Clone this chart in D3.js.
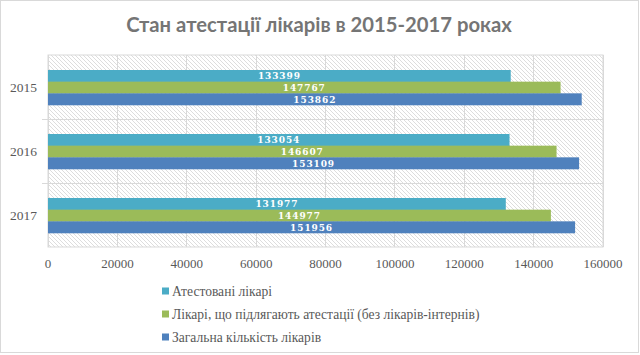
<!DOCTYPE html>
<html><head><meta charset="utf-8">
<script src="https://cdn.jsdelivr.net/npm/d3@7"></script>
<style>body{margin:0;background:#fff}svg{display:block}</style>
</head><body><svg id="c" width="640" height="355"></svg>
<script>
const title = "Стан атестації лікарів в 2015-2017 роках";
const years = ["2015", "2016", "2017"];
const seriesNames = ["Атестовані лікарі", "Лікарі, що підлягають атестації (без лікарів-інтернів)", "Загальна кількість лікарів"];
const certified = [133399, 133054, 131977];
const subject = [147767, 146607, 144977];
const total = [153862, 153109, 151956];
const xTicks = [0, 20000, 40000, 60000, 80000, 100000, 120000, 140000, 160000];
const colors = ["#4BACC6", "#9BBB59", "#4F81BD"];

const svg = d3.select("#c");
const serif = "'Liberation Serif', 'DejaVu Serif', serif";
svg.append("rect").attr("x",0.5).attr("y",0.5).attr("width",638).attr("height",352)
  .attr("fill","#fff").attr("stroke","#d9d9d9");

const defs = svg.append("defs");
const pat = defs.append("pattern").attr("id","hatch").attr("patternUnits","userSpaceOnUse")
  .attr("width",4).attr("height",4);
pat.append("rect").attr("width",4).attr("height",4).attr("fill","#fff");
pat.append("path").attr("d","M-1,-1 L5,5 M-1,3 L1,5 M3,-1 L5,1").attr("stroke","#d4d4d4").attr("stroke-width",0.8);

const m = {l:48, r:603, t:55, b:247};
const x = d3.scaleLinear().domain([0,160000]).range([m.l, m.r]);
const y = d3.scaleBand().domain(years).range([m.t, m.b]);

svg.append("rect").attr("x",m.l).attr("y",m.t).attr("width",m.r-m.l).attr("height",m.b-m.t)
  .attr("fill","url(#hatch)").attr("stroke","#d9d9d9");

// gridlines
svg.append("g").selectAll("line").data(xTicks).join("line")
  .attr("x1",d=>x(d)).attr("x2",d=>x(d)).attr("y1",m.t).attr("y2",m.b)
  .attr("stroke","#d9d9d9").attr("stroke-width",1).attr("shape-rendering","crispEdges");
svg.append("g").selectAll("line").data(years.slice(1)).join("line")
  .attr("x1",m.l - 6).attr("x2",m.r).attr("y1",d=>y(d)).attr("y2",d=>y(d))
  .attr("stroke","#d9d9d9").attr("shape-rendering","crispEdges");

const series = [certified, subject, total];
const inner = d3.scaleBand().domain(d3.range(3)).range([0, 35]);
const groupOffset = 15;
series.forEach((vals, si) => {
  const g = svg.append("g");
  g.selectAll("rect").data(years).join("rect")
    .attr("x", x(0)).attr("y", (d)=>y(d)+groupOffset+inner(si))
    .attr("width", (d,i)=>x(vals[i])-x(0)).attr("height", inner.bandwidth()+0.3)
    .attr("fill", colors[si]);
  g.selectAll("text").data(years).join("text")
    .attr("x", (d,i)=>(x(0)+x(vals[i]))/2).attr("y", (d)=>y(d)+groupOffset+inner(si)+inner.bandwidth()/2)
    .attr("dy","0.36em").attr("text-anchor","middle")
    .attr("font-family","'DejaVu Serif Condensed', 'DejaVu Serif', serif").attr("font-stretch","condensed")
    .attr("font-weight","bold").attr("font-size",10).attr("letter-spacing",0.9)
    .attr("fill","#fff").text((d,i)=>vals[i]);
});

// x axis labels
svg.append("g").selectAll("text").data(xTicks).join("text")
  .attr("x",d=>x(d)).attr("y",263).attr("dy","0.36em").attr("text-anchor","middle")
  .attr("font-family",serif).attr("font-size",13).attr("fill","#595959").text(d=>d);
// y axis labels
svg.append("g").selectAll("text").data(years).join("text")
  .attr("x",37).attr("y",d=>y(d)+y.bandwidth()/2).attr("dy","0.36em").attr("text-anchor","end")
  .attr("font-family",serif).attr("font-size",13.5).attr("fill","#595959").text(d=>d);

// title
const t = svg.append("text").attr("x",319).attr("y",32).attr("text-anchor","middle")
  .attr("font-family","Lato, 'Open Sans', sans-serif").attr("font-weight","bold").attr("font-size",20)
  .attr("fill","#757575").text(title);
const tw = t.node().getComputedTextLength();
t.attr("font-size", 20*386/tw);

// legend
const leg = svg.append("g");
const legY = [291, 314, 337];
seriesNames.forEach((n,i)=>{
  leg.append("rect").attr("x",162).attr("y",legY[i]-3.5).attr("width",7).attr("height",7).attr("fill",colors[i]);
  leg.append("text").attr("x",172).attr("y",legY[i]).attr("dy","0.34em")
    .attr("font-family",serif).attr("font-size",13).attr("fill","#595959").text(n);
});
const lt2 = leg.selectAll("text").nodes()[1];
const lw = lt2.getComputedTextLength();
leg.selectAll("text").attr("font-size", 13*308/lw);
</script></body></html>
